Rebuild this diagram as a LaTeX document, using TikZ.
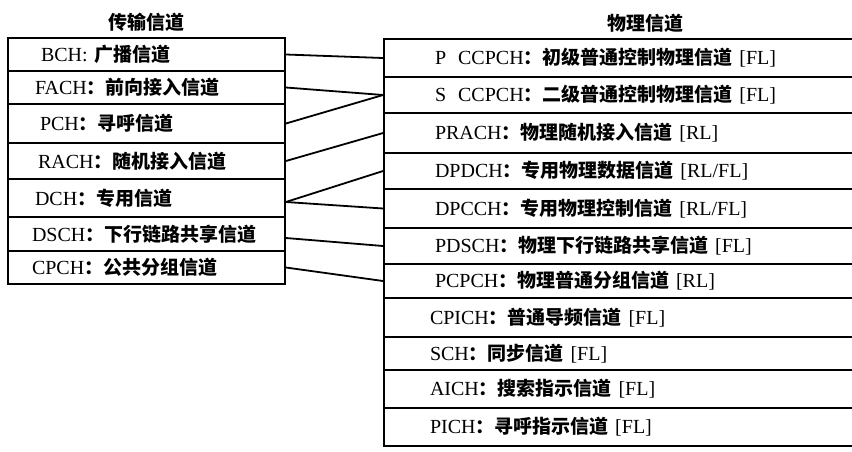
\documentclass[tikz,border=0pt]{standalone}
\usepackage{fontspec}
\setmainfont{Liberation Serif}
\newfontfamily\cjk{Noto Sans CJK SC}
\newcommand{\zh}[1]{{\cjk\bfseries\fontsize{19}{21}\selectfont #1}}
\begin{document}
\begin{tikzpicture}[x=1pt,y=-1pt,
  box/.style={draw=black, line width=1.8pt, rectangle, inner ysep=0pt,
    font=\fontsize{20}{22}\selectfont, align=left},
  lrow/.style={box, minimum width=277pt, text width=223pt, inner xsep=27pt},
  rrow/.style={box, minimum width=485pt, text width=385pt, inner xsep=51pt},
  conn/.style={line width=1.8pt},
  title/.style={font=\fontsize{19}{21}\selectfont\cjk\bfseries, inner sep=0pt}]
\clip (0,0) rectangle (852,451);
% titles
\node[title] (tl) at (146,22) {传输信道};
\node[title] (tr) at (645,23) {物理信道};
% transport channels
\node[lrow, minimum height=33pt] (bch)  at (146.5,54.5)  {\hspace{6pt}BCH: \zh{广播信道}};
\node[lrow, minimum height=33pt] (fach) at (146.5,87.5)  {FACH\zh{：前向接入信道}};
\node[lrow, minimum height=39pt] (pch)  at (146.5,123.5) {\hspace{5pt}PCH\zh{：寻呼信道}};
\node[lrow, minimum height=36pt] (rach) at (146.5,161)   {\hspace{3pt}RACH\zh{：随机接入信道}};
\node[lrow, minimum height=38pt] (dch)  at (146.5,198)   {DCH\zh{：专用信道}};
\node[lrow, minimum height=34pt] (dsch) at (146.5,234)   {\hspace{-3pt}DSCH\zh{：下行链路共享信道}};
\node[lrow, minimum height=33pt] (cpch) at (146.5,267.5) {\hspace{-3pt}CPCH\zh{：公共分组信道}};
% physical channels
\node[rrow, minimum height=38pt] (pcc)   at (627.5,58)    {P\hspace{0.6em}CCPCH\zh{：初级普通控制物理信道} [FL]};
\node[rrow, minimum height=36pt] (scc)   at (627.5,95)    {S\hspace{0.6em}CCPCH\zh{：二级普通控制物理信道} [FL]};
\node[rrow, minimum height=40pt] (prach) at (627.5,133)   {PRACH\zh{：物理随机接入信道} [RL]};
\node[rrow, minimum height=36pt] (dpdch) at (627.5,171)   {DPDCH\zh{：专用物理数据信道} [RL/FL]};
\node[rrow, minimum height=39pt] (dpcch) at (627.5,208.5) {DPCCH\zh{：专用物理控制信道} [RL/FL]};
\node[rrow, minimum height=36pt] (pdsch) at (627.5,246)   {PDSCH\zh{：物理下行链路共享信道} [FL]};
\node[rrow, minimum height=34pt] (pcpch) at (627.5,281)   {PCPCH\zh{：物理普通分组信道} [RL]};
\node[rrow, minimum height=39pt] (cpich) at (627.5,317.5) {\hspace{-5pt}CPICH\zh{：普通导频信道} [FL]};
\node[rrow, minimum height=33pt] (sch)   at (627.5,353.5) {\hspace{-5pt}SCH\zh{：同步信道} [FL]};
\node[rrow, minimum height=38pt] (aich)  at (627.5,389)   {\hspace{-5pt}AICH\zh{：搜索指示信道} [FL]};
\node[rrow, minimum height=38pt] (pich)  at (627.5,427)   {\hspace{-5pt}PICH\zh{：寻呼指示信道} [FL]};
% connectors
\draw[conn] (bch.east)  -- (pcc.west);
\draw[conn] (fach.east) -- (scc.west);
\draw[conn] (pch.east)  -- (scc.west);
\draw[conn] (rach.east) -- (prach.west);
\draw[conn] ([yshift=-4pt]dch.east) -- (dpdch.west);
\draw[conn] ([yshift=-4pt]dch.east) -- (dpcch.west);
\draw[conn] ([yshift=-4pt]dsch.east) -- (pdsch.west);
\draw[conn] (cpch.east) -- (pcpch.west);
\end{tikzpicture}
\end{document}
